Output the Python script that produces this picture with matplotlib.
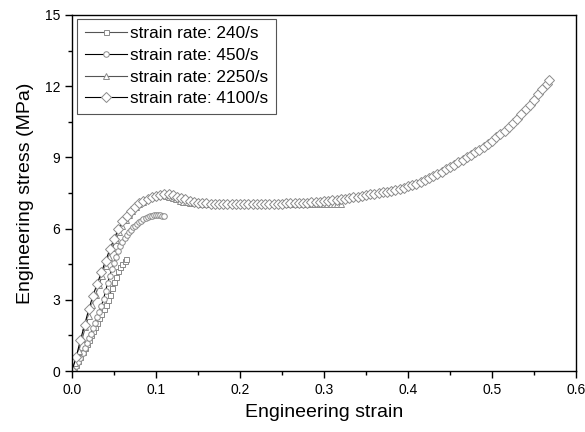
import numpy as np
import matplotlib
matplotlib.use("Agg")
import matplotlib.pyplot as plt

# data
strain_240 = [0.0000, 0.0025, 0.0050, 0.0075, 0.0100, 0.0125, 0.0150, 0.0175, 0.0200,
              0.0225, 0.0250, 0.0275, 0.0300, 0.0325, 0.0350, 0.0375, 0.0400, 0.0425,
              0.0450, 0.0475, 0.0500, 0.0525, 0.0550, 0.0575, 0.0600, 0.0625, 0.0640]
stress_240 = [0.00, 0.10, 0.25, 0.42, 0.60, 0.78, 0.96, 1.14, 1.32,
              1.50, 1.68, 1.86, 2.04, 2.22, 2.40, 2.60, 2.80, 3.00,
              3.20, 3.50, 3.75, 3.98, 4.20, 4.38, 4.52, 4.64, 4.72]

strain_450 = [0.0000, 0.0025, 0.0050, 0.0075, 0.0100, 0.0125, 0.0150, 0.0175, 0.0200,
              0.0225, 0.0250, 0.0275, 0.0300, 0.0325, 0.0350, 0.0375, 0.0400, 0.0425,
              0.0450, 0.0475, 0.0500, 0.0525, 0.0550, 0.0575, 0.0600, 0.0625, 0.0650,
              0.0675, 0.0700, 0.0725, 0.0750, 0.0775, 0.0800, 0.0825, 0.0850, 0.0875,
              0.0900, 0.0925, 0.0950, 0.0975, 0.1000, 0.1025, 0.1050, 0.1075, 0.1100]
stress_450 = [0.00, 0.10, 0.22, 0.38, 0.56, 0.76, 0.96, 1.16, 1.37,
              1.58, 1.80, 2.03, 2.27, 2.50, 2.75, 3.03, 3.38, 3.72,
              4.02, 4.30, 4.56, 4.82, 5.05, 5.26, 5.45, 5.60, 5.73,
              5.84, 5.95, 6.05, 6.13, 6.21, 6.28, 6.34, 6.39, 6.44,
              6.48, 6.52, 6.55, 6.57, 6.58, 6.59, 6.58, 6.55, 6.51]

strain_2250 = [0.000, 0.004, 0.008, 0.012, 0.016, 0.020, 0.024, 0.028, 0.032, 0.036,
               0.040, 0.044, 0.048, 0.052, 0.056, 0.060, 0.064, 0.068, 0.072, 0.076,
               0.080, 0.084, 0.088, 0.092, 0.096, 0.100, 0.104, 0.108, 0.112, 0.116,
               0.120, 0.124, 0.128, 0.132, 0.136, 0.140, 0.144, 0.148, 0.152, 0.156,
               0.160, 0.164, 0.168, 0.172, 0.176, 0.180, 0.184, 0.188, 0.192, 0.196,
               0.200, 0.204, 0.208, 0.212, 0.216, 0.220, 0.224, 0.228, 0.232, 0.236,
               0.240, 0.244, 0.248, 0.252, 0.256, 0.260, 0.264, 0.268, 0.272, 0.276,
               0.280, 0.284, 0.288, 0.292, 0.296, 0.300, 0.304, 0.308, 0.312, 0.316,
               0.320]
stress_2250 = [0.00, 0.35, 0.85, 1.35, 1.85, 2.33, 2.80, 3.22, 3.62, 4.02,
               4.42, 4.80, 5.17, 5.52, 5.85, 6.12, 6.36, 6.56, 6.74, 6.90,
               7.03, 7.13, 7.22, 7.29, 7.34, 7.38, 7.40, 7.41, 7.38, 7.33,
               7.28, 7.23, 7.18, 7.14, 7.11, 7.09, 7.07, 7.06, 7.05, 7.04,
               7.04, 7.03, 7.03, 7.02, 7.03, 7.02, 7.02, 7.03, 7.02, 7.02,
               7.03, 7.02, 7.02, 7.03, 7.02, 7.03, 7.03, 7.02, 7.03, 7.03,
               7.02, 7.03, 7.03, 7.02, 7.03, 7.03, 7.02, 7.03, 7.03, 7.02,
               7.03, 7.02, 7.03, 7.03, 7.02, 7.03, 7.03, 7.02, 7.03, 7.03,
               7.04]

strain_4100 = [0.000, 0.005, 0.010, 0.015, 0.020, 0.025, 0.030, 0.035, 0.040, 0.045,
               0.050, 0.055, 0.060, 0.065, 0.070, 0.075, 0.080, 0.085, 0.090, 0.095,
               0.100, 0.105, 0.110, 0.115, 0.120, 0.125, 0.130, 0.135, 0.140, 0.145,
               0.150, 0.155, 0.160, 0.165, 0.170, 0.175, 0.180, 0.185, 0.190, 0.195,
               0.200, 0.205, 0.210, 0.215, 0.220, 0.225, 0.230, 0.235, 0.240, 0.245,
               0.250, 0.255, 0.260, 0.265, 0.270, 0.275, 0.280, 0.285, 0.290, 0.295,
               0.300, 0.305, 0.310, 0.315, 0.320, 0.325, 0.330, 0.335, 0.340, 0.345,
               0.350, 0.355, 0.360, 0.365, 0.370, 0.375, 0.380, 0.385, 0.390, 0.395,
               0.400, 0.405, 0.410, 0.415, 0.420, 0.425, 0.430, 0.435, 0.440, 0.445,
               0.450, 0.455, 0.460, 0.465, 0.470, 0.475, 0.480, 0.485, 0.490, 0.495,
               0.500, 0.505, 0.510, 0.515, 0.520, 0.525, 0.530, 0.535, 0.540, 0.545,
               0.550, 0.555, 0.560, 0.565, 0.568]
stress_4100 = [0.00, 0.60, 1.30, 1.95, 2.60, 3.18, 3.68, 4.16, 4.64, 5.12,
               5.55, 5.97, 6.30, 6.54, 6.74, 6.90, 7.06, 7.17, 7.26, 7.33,
               7.38, 7.43, 7.46, 7.46, 7.41, 7.35, 7.29, 7.23, 7.17, 7.13,
               7.09, 7.07, 7.06, 7.05, 7.04, 7.04, 7.03, 7.03, 7.02, 7.03,
               7.03, 7.02, 7.02, 7.03, 7.02, 7.03, 7.04, 7.03, 7.04, 7.05,
               7.05, 7.06, 7.06, 7.07, 7.08, 7.08, 7.09, 7.10, 7.11, 7.13,
               7.15, 7.17, 7.19, 7.21, 7.24, 7.26, 7.29, 7.32, 7.35, 7.38,
               7.41, 7.44, 7.47, 7.50, 7.53, 7.56, 7.60, 7.64, 7.68, 7.73,
               7.78, 7.84, 7.90, 7.97, 8.04, 8.12, 8.21, 8.30, 8.40, 8.50,
               8.60, 8.70, 8.80, 8.90, 9.00, 9.10, 9.21, 9.33, 9.45, 9.57,
               9.70, 9.84, 9.98, 10.13, 10.28, 10.45, 10.63, 10.82, 11.02, 11.22,
               11.43, 11.65, 11.88, 12.10, 12.24]

labels = ["strain rate: 240/s", "strain rate: 450/s",
          "strain rate: 2250/s", "strain rate: 4100/s"]

plt.rcParams['font.family'] = ['Liberation Sans', 'DejaVu Sans']

fig = plt.figure(figsize=(5.85, 4.32), dpi=100)
ax = fig.add_axes([0.1231, 0.1412, 0.8615, 0.8241])

grey = "#8a8a8a"
ax.plot(strain_240, stress_240, color="#555555", lw=0.8, marker="s", ms=3.6,
        mfc="white", mec=grey, mew=0.7, label=labels[0])
ax.plot(strain_450, stress_450, color="black", lw=0.8, marker="o", ms=4.0,
        mfc="white", mec=grey, mew=0.7, label=labels[1])
ax.plot(strain_2250, stress_2250, color="#555555", lw=0.8, marker="^", ms=4.5,
        mfc="white", mec=grey, mew=0.7, label=labels[2])
ax.plot(strain_4100, stress_4100, color="black", lw=0.8, marker="D", ms=4.7,
        mfc="white", mec=grey, mew=0.7, label=labels[3])

ax.set_xlim(0, 0.6)
ax.set_ylim(0, 15)
ax.set_xticks([0.0, 0.1, 0.2, 0.3, 0.4, 0.5, 0.6])
ax.set_xticklabels(["0.0", "0.1", "0.2", "0.3", "0.4", "0.5", "0.6"])
ax.set_yticks([0, 3, 6, 9, 12, 15])
ax.set_xticks(np.arange(0.05, 0.6, 0.1), minor=True)
ax.set_yticks([1.5, 4.5, 7.5, 10.5, 13.5], minor=True)
ax.tick_params(which="major", direction="out", length=5, width=1.0, labelsize=10,
               top=False, right=False)
ax.tick_params(which="minor", direction="out", length=3, width=1.0,
               top=False, right=False)
for s in ax.spines.values():
    s.set_linewidth(1.0)

ax.set_xlabel("Engineering strain", fontsize=14, labelpad=5)
ax.set_ylabel("Engineering stress (MPa)", fontsize=14, labelpad=8)

leg = ax.legend(loc="upper left", bbox_to_anchor=(0.01, 0.99), borderaxespad=0,
                fontsize=12.4, handlelength=2.45, handletextpad=0.2,
                labelspacing=0.38, fancybox=False, framealpha=1,
                borderpad=0.45)
leg.get_frame().set_edgecolor("#555555")
leg.get_frame().set_linewidth(0.8)

fig.savefig("out.png", dpi=100)
